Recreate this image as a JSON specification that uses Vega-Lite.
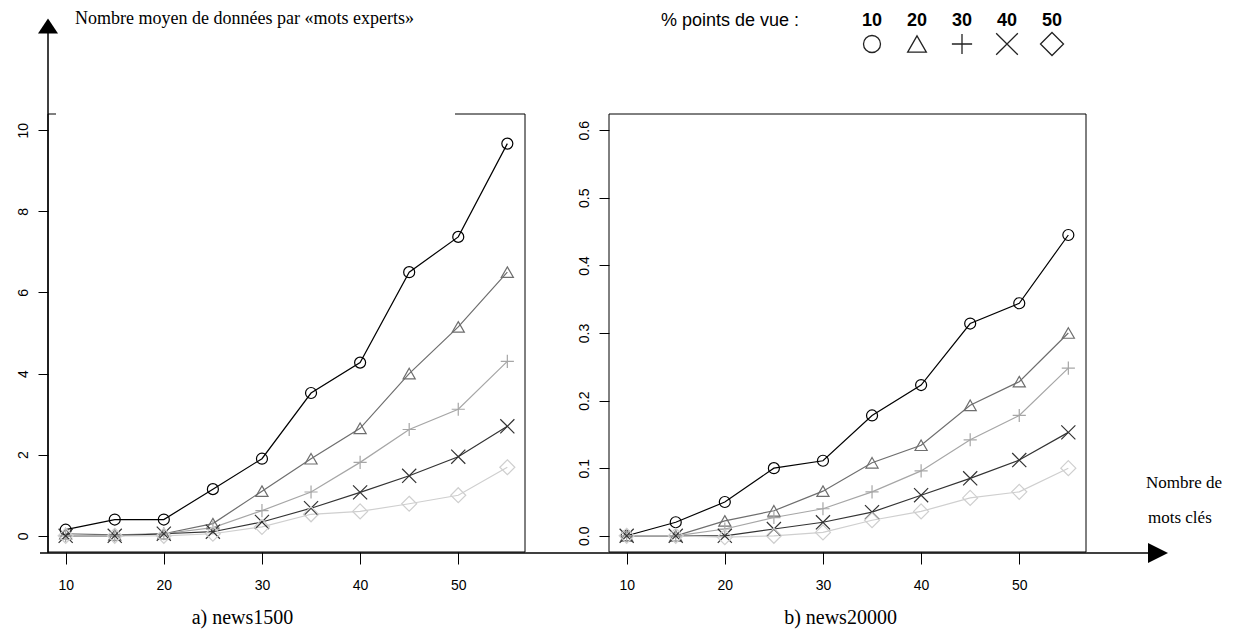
{
  "$schema": "https://vega.github.io/schema/vega-lite/v6.json",
  "width": 1235,
  "height": 633,
  "padding": 0,
  "autosize": {"type": "none"},
  "background": "white",
  "config": {"view": {"stroke": null}, "font": "Liberation Sans"},
  "datasets": {
    "series": [
      {"p": "a", "k": 10, "s": "10", "v": 0.15}, {"p": "a", "k": 15, "s": "10", "v": 0.4}, {"p": "a", "k": 20, "s": "10", "v": 0.4}, {"p": "a", "k": 25, "s": "10", "v": 1.15}, {"p": "a", "k": 30, "s": "10", "v": 1.9}, {"p": "a", "k": 35, "s": "10", "v": 3.52}, {"p": "a", "k": 40, "s": "10", "v": 4.27}, {"p": "a", "k": 45, "s": "10", "v": 6.5}, {"p": "a", "k": 50, "s": "10", "v": 7.37}, {"p": "a", "k": 55, "s": "10", "v": 9.67},
      {"p": "a", "k": 10, "s": "20", "v": 0.05}, {"p": "a", "k": 15, "s": "20", "v": 0.02}, {"p": "a", "k": 20, "s": "20", "v": 0.05}, {"p": "a", "k": 25, "s": "20", "v": 0.3}, {"p": "a", "k": 30, "s": "20", "v": 1.1}, {"p": "a", "k": 35, "s": "20", "v": 1.9}, {"p": "a", "k": 40, "s": "20", "v": 2.65}, {"p": "a", "k": 45, "s": "20", "v": 4.0}, {"p": "a", "k": 50, "s": "20", "v": 5.15}, {"p": "a", "k": 55, "s": "20", "v": 6.5},
      {"p": "a", "k": 10, "s": "30", "v": 0.0}, {"p": "a", "k": 15, "s": "30", "v": 0.0}, {"p": "a", "k": 20, "s": "30", "v": 0.05}, {"p": "a", "k": 25, "s": "30", "v": 0.2}, {"p": "a", "k": 30, "s": "30", "v": 0.62}, {"p": "a", "k": 35, "s": "30", "v": 1.08}, {"p": "a", "k": 40, "s": "30", "v": 1.81}, {"p": "a", "k": 45, "s": "30", "v": 2.62}, {"p": "a", "k": 50, "s": "30", "v": 3.12}, {"p": "a", "k": 55, "s": "30", "v": 4.3},
      {"p": "a", "k": 10, "s": "40", "v": 0.0}, {"p": "a", "k": 15, "s": "40", "v": 0.0}, {"p": "a", "k": 20, "s": "40", "v": 0.05}, {"p": "a", "k": 25, "s": "40", "v": 0.1}, {"p": "a", "k": 30, "s": "40", "v": 0.34}, {"p": "a", "k": 35, "s": "40", "v": 0.68}, {"p": "a", "k": 40, "s": "40", "v": 1.07}, {"p": "a", "k": 45, "s": "40", "v": 1.48}, {"p": "a", "k": 50, "s": "40", "v": 1.95}, {"p": "a", "k": 55, "s": "40", "v": 2.7},
      {"p": "a", "k": 10, "s": "50", "v": 0.0}, {"p": "a", "k": 15, "s": "50", "v": 0.0}, {"p": "a", "k": 20, "s": "50", "v": 0.0}, {"p": "a", "k": 25, "s": "50", "v": 0.05}, {"p": "a", "k": 30, "s": "50", "v": 0.22}, {"p": "a", "k": 35, "s": "50", "v": 0.53}, {"p": "a", "k": 40, "s": "50", "v": 0.6}, {"p": "a", "k": 45, "s": "50", "v": 0.79}, {"p": "a", "k": 50, "s": "50", "v": 1.0}, {"p": "a", "k": 55, "s": "50", "v": 1.69},
      {"p": "b", "k": 10, "s": "10", "v": 0.0}, {"p": "b", "k": 15, "s": "10", "v": 0.02}, {"p": "b", "k": 20, "s": "10", "v": 0.05}, {"p": "b", "k": 25, "s": "10", "v": 0.1}, {"p": "b", "k": 30, "s": "10", "v": 0.111}, {"p": "b", "k": 35, "s": "10", "v": 0.178}, {"p": "b", "k": 40, "s": "10", "v": 0.223}, {"p": "b", "k": 45, "s": "10", "v": 0.314}, {"p": "b", "k": 50, "s": "10", "v": 0.344}, {"p": "b", "k": 55, "s": "10", "v": 0.445},
      {"p": "b", "k": 10, "s": "20", "v": 0.0}, {"p": "b", "k": 15, "s": "20", "v": 0.0}, {"p": "b", "k": 20, "s": "20", "v": 0.022}, {"p": "b", "k": 25, "s": "20", "v": 0.037}, {"p": "b", "k": 30, "s": "20", "v": 0.066}, {"p": "b", "k": 35, "s": "20", "v": 0.108}, {"p": "b", "k": 40, "s": "20", "v": 0.134}, {"p": "b", "k": 45, "s": "20", "v": 0.193}, {"p": "b", "k": 50, "s": "20", "v": 0.228}, {"p": "b", "k": 55, "s": "20", "v": 0.3},
      {"p": "b", "k": 10, "s": "30", "v": 0.0}, {"p": "b", "k": 15, "s": "30", "v": 0.0}, {"p": "b", "k": 20, "s": "30", "v": 0.01}, {"p": "b", "k": 25, "s": "30", "v": 0.027}, {"p": "b", "k": 30, "s": "30", "v": 0.04}, {"p": "b", "k": 35, "s": "30", "v": 0.065}, {"p": "b", "k": 40, "s": "30", "v": 0.096}, {"p": "b", "k": 45, "s": "30", "v": 0.142}, {"p": "b", "k": 50, "s": "30", "v": 0.178}, {"p": "b", "k": 55, "s": "30", "v": 0.248},
      {"p": "b", "k": 10, "s": "40", "v": 0.0}, {"p": "b", "k": 15, "s": "40", "v": 0.0}, {"p": "b", "k": 20, "s": "40", "v": 0.0}, {"p": "b", "k": 25, "s": "40", "v": 0.01}, {"p": "b", "k": 30, "s": "40", "v": 0.02}, {"p": "b", "k": 35, "s": "40", "v": 0.035}, {"p": "b", "k": 40, "s": "40", "v": 0.06}, {"p": "b", "k": 45, "s": "40", "v": 0.085}, {"p": "b", "k": 50, "s": "40", "v": 0.112}, {"p": "b", "k": 55, "s": "40", "v": 0.153},
      {"p": "b", "k": 10, "s": "50", "v": 0.0}, {"p": "b", "k": 15, "s": "50", "v": 0.0}, {"p": "b", "k": 20, "s": "50", "v": -0.002}, {"p": "b", "k": 25, "s": "50", "v": 0.0}, {"p": "b", "k": 30, "s": "50", "v": 0.005}, {"p": "b", "k": 35, "s": "50", "v": 0.023}, {"p": "b", "k": 40, "s": "50", "v": 0.036}, {"p": "b", "k": 45, "s": "50", "v": 0.056}, {"p": "b", "k": 50, "s": "50", "v": 0.065}, {"p": "b", "k": 55, "s": "50", "v": 0.1}
    ],
    "legend": [{"s": "10"}, {"s": "20"}, {"s": "30"}, {"s": "40"}, {"s": "50"}],
    "boxa": [{"x0": 8.2, "x1": 56.8, "y0": -0.4, "y1": 10.4}],
    "boxb": [{"x0": 8.2, "x1": 56.8, "y0": -0.024, "y1": 0.624}],
    "one": [{"n": 1}]
  },
  "layer": [
    {
      "encoding": {
        "x": {"field": "k", "type": "quantitative",
          "scale": {"domain": [8.2, 56.8], "range": [48, 525], "nice": false, "zero": false},
          "axis": {"orient": "bottom", "offset": -81, "values": [10, 20, 30, 40, 50], "domain": false, "grid": false, "tickSize": 12, "tickColor": "black", "labelColor": "black", "labelFont": "Liberation Sans", "labelFontSize": 14, "labelPadding": 14, "title": "a) news1500", "titleFont": "Liberation Serif", "titleFontSize": 20, "titleFontWeight": "normal", "titleColor": "black", "titleX": 242, "titleY": 71, "titleAlign": "center", "titleBaseline": "alphabetic"}},
        "y": {"field": "v", "type": "quantitative",
          "scale": {"domain": [-0.4, 10.4], "range": [552, 114], "nice": false, "zero": false},
          "axis": {"orient": "left", "offset": -48, "values": [0, 2, 4, 6, 8, 10], "domain": false, "grid": false, "tickSize": 10, "tickColor": "black", "labelColor": "black", "labelFont": "Liberation Sans", "labelFontSize": 14, "labelAngle": -90, "labelAlign": "center", "labelBaseline": "bottom", "labelPadding": 8, "title": null}}
      },
      "layer": [
        {"data": {"name": "boxa"}, "mark": {"type": "rect", "filled": false, "color": "black", "strokeWidth": 1},
          "encoding": {"x": {"field": "x0", "type": "quantitative"}, "x2": {"field": "x1"}, "y": {"field": "y0", "type": "quantitative"}, "y2": {"field": "y1"}}},
        {"data": {"name": "series"}, "transform": [{"filter": "datum.p === 'a'"}],
          "mark": {"type": "line", "strokeWidth": 1.2},
          "encoding": {"color": {"field": "s", "type": "nominal", "scale": {"domain": ["10", "20", "30", "40", "50"], "range": ["#000000", "#6e6e6e", "#a6a6a6", "#333333", "#cfcfcf"]}, "legend": null}}},
        {"data": {"name": "series"}, "transform": [{"filter": "datum.p === 'a'"}],
          "mark": {"type": "point", "filled": false, "strokeWidth": 1.2, "opacity": 1},
          "encoding": {
            "color": {"field": "s", "type": "nominal", "legend": null},
            "shape": {"field": "s", "type": "nominal", "scale": {"domain": ["10", "20", "30", "40", "50"], "range": ["circle", "M0,-0.87L1,0.87L-1,0.87Z", "M-1,0L1,0M0,-1L0,1", "M-1,-1L1,1M-1,1L1,-1", "M0,-1L1,0L0,1L-1,0Z"]}, "legend": null},
            "size": {"field": "s", "type": "nominal", "scale": {"domain": ["10", "20", "30", "40", "50"], "range": [121, 225, 256, 144, 256]}, "legend": null}
          }}
      ]
    },
    {
      "encoding": {
        "x": {"field": "k", "type": "quantitative",
          "scale": {"domain": [8.2, 56.8], "range": [609, 1086], "nice": false, "zero": false},
          "axis": {"orient": "bottom", "offset": -81, "values": [10, 20, 30, 40, 50], "domain": false, "grid": false, "tickSize": 12, "tickColor": "black", "labelColor": "black", "labelFont": "Liberation Sans", "labelFontSize": 14, "labelPadding": 14, "title": "b) news20000", "titleFont": "Liberation Serif", "titleFontSize": 20, "titleFontWeight": "normal", "titleColor": "black", "titleX": 840, "titleY": 71, "titleAlign": "center", "titleBaseline": "alphabetic"}},
        "y": {"field": "v", "type": "quantitative",
          "scale": {"domain": [-0.024, 0.624], "range": [552, 114], "nice": false, "zero": false},
          "axis": {"orient": "left", "offset": -609, "values": [0, 0.1, 0.2, 0.3, 0.4, 0.5, 0.6], "format": ".1f", "domain": false, "grid": false, "tickSize": 10, "tickColor": "black", "labelColor": "black", "labelFont": "Liberation Sans", "labelFontSize": 14, "labelAngle": -90, "labelAlign": "center", "labelBaseline": "bottom", "labelPadding": 8, "title": null}}
      },
      "layer": [
        {"data": {"name": "boxb"}, "mark": {"type": "rect", "filled": false, "color": "black", "strokeWidth": 1},
          "encoding": {"x": {"field": "x0", "type": "quantitative"}, "x2": {"field": "x1"}, "y": {"field": "y0", "type": "quantitative"}, "y2": {"field": "y1"}}},
        {"data": {"name": "series"}, "transform": [{"filter": "datum.p === 'b'"}],
          "mark": {"type": "line", "strokeWidth": 1.2},
          "encoding": {"color": {"field": "s", "type": "nominal", "legend": null}}},
        {"data": {"name": "series"}, "transform": [{"filter": "datum.p === 'b'"}],
          "mark": {"type": "point", "filled": false, "strokeWidth": 1.2, "opacity": 1},
          "encoding": {
            "color": {"field": "s", "type": "nominal", "legend": null},
            "shape": {"field": "s", "type": "nominal", "legend": null},
            "size": {"field": "s", "type": "nominal", "scale": {"domain": ["10", "20", "30", "40", "50"], "range": [121, 225, 256, 144, 256]}, "legend": null}
          }}
      ]
    },
    {
      "data": {"name": "one"},
      "mark": {"type": "rule", "stroke": "white", "strokeWidth": 4},
      "encoding": {"x": {"value": 56}, "x2": {"value": 455}, "y": {"value": 114}}
    },
    {
      "data": {"name": "one"},
      "mark": {"type": "rule", "stroke": "black", "strokeWidth": 1.5},
      "encoding": {"x": {"value": 48}, "y": {"value": 33}, "y2": {"value": 553}}
    },
    {
      "data": {"name": "one"},
      "mark": {"type": "rule", "stroke": "black", "strokeWidth": 1.5},
      "encoding": {"x": {"value": 40}, "x2": {"value": 1152}, "y": {"value": 553}}
    },
    {
      "data": {"name": "one"},
      "mark": {"type": "point", "shape": "M-1,0.75L0,-0.75L1,0.75Z", "filled": true, "fill": "black", "stroke": null, "size": 400, "opacity": 1},
      "encoding": {"x": {"value": 48}, "y": {"value": 26}}
    },
    {
      "data": {"name": "one"},
      "mark": {"type": "point", "shape": "M-1,-1L1,0L-1,1Z", "filled": true, "fill": "black", "stroke": null, "size": 400, "opacity": 1},
      "encoding": {"x": {"value": 1158}, "y": {"value": 553}}
    },
    {
      "data": {"name": "one"},
      "mark": {"type": "text", "text": "Nombre moyen de données par  «mots experts»", "font": "Liberation Serif", "fontSize": 18, "align": "left", "baseline": "alphabetic", "color": "black"},
      "encoding": {"x": {"value": 75}, "y": {"value": 24}}
    },
    {
      "data": {"name": "one"},
      "mark": {"type": "text", "text": "Nombre de", "font": "Liberation Serif", "fontSize": 17, "align": "left", "baseline": "alphabetic", "color": "black"},
      "encoding": {"x": {"value": 1146}, "y": {"value": 488}}
    },
    {
      "data": {"name": "one"},
      "mark": {"type": "text", "text": "mots clés", "font": "Liberation Serif", "fontSize": 17, "align": "left", "baseline": "alphabetic", "color": "black"},
      "encoding": {"x": {"value": 1148}, "y": {"value": 523}}
    },
    {
      "data": {"name": "one"},
      "mark": {"type": "text", "text": "% points de vue :", "font": "Liberation Sans", "fontSize": 18, "align": "left", "baseline": "alphabetic", "color": "black"},
      "encoding": {"x": {"value": 661}, "y": {"value": 26}}
    },
    {
      "data": {"name": "legend"},
      "encoding": {"x": {"field": "s", "type": "nominal", "scale": {"type": "point", "domain": ["10", "20", "30", "40", "50"], "range": [872, 1052], "padding": 0}, "axis": null}},
      "layer": [
        {"mark": {"type": "text", "font": "Liberation Sans", "fontSize": 18, "fontWeight": "bold", "align": "center", "baseline": "alphabetic", "color": "black"},
          "encoding": {"text": {"field": "s", "type": "nominal"}, "y": {"value": 26}}},
        {"mark": {"type": "point", "filled": false, "stroke": "#222222", "strokeWidth": 1.3, "opacity": 1},
          "encoding": {"y": {"value": 44},
            "shape": {"field": "s", "type": "nominal", "legend": null},
            "size": {"field": "s", "type": "nominal", "scale": {"domain": ["10", "20", "30", "40", "50"], "range": [289, 529, 529, 324, 529]}, "legend": null}}}
      ]
    }
  ],
  "resolve": {"scale": {"x": "independent", "y": "independent", "size": "independent"}}
}
